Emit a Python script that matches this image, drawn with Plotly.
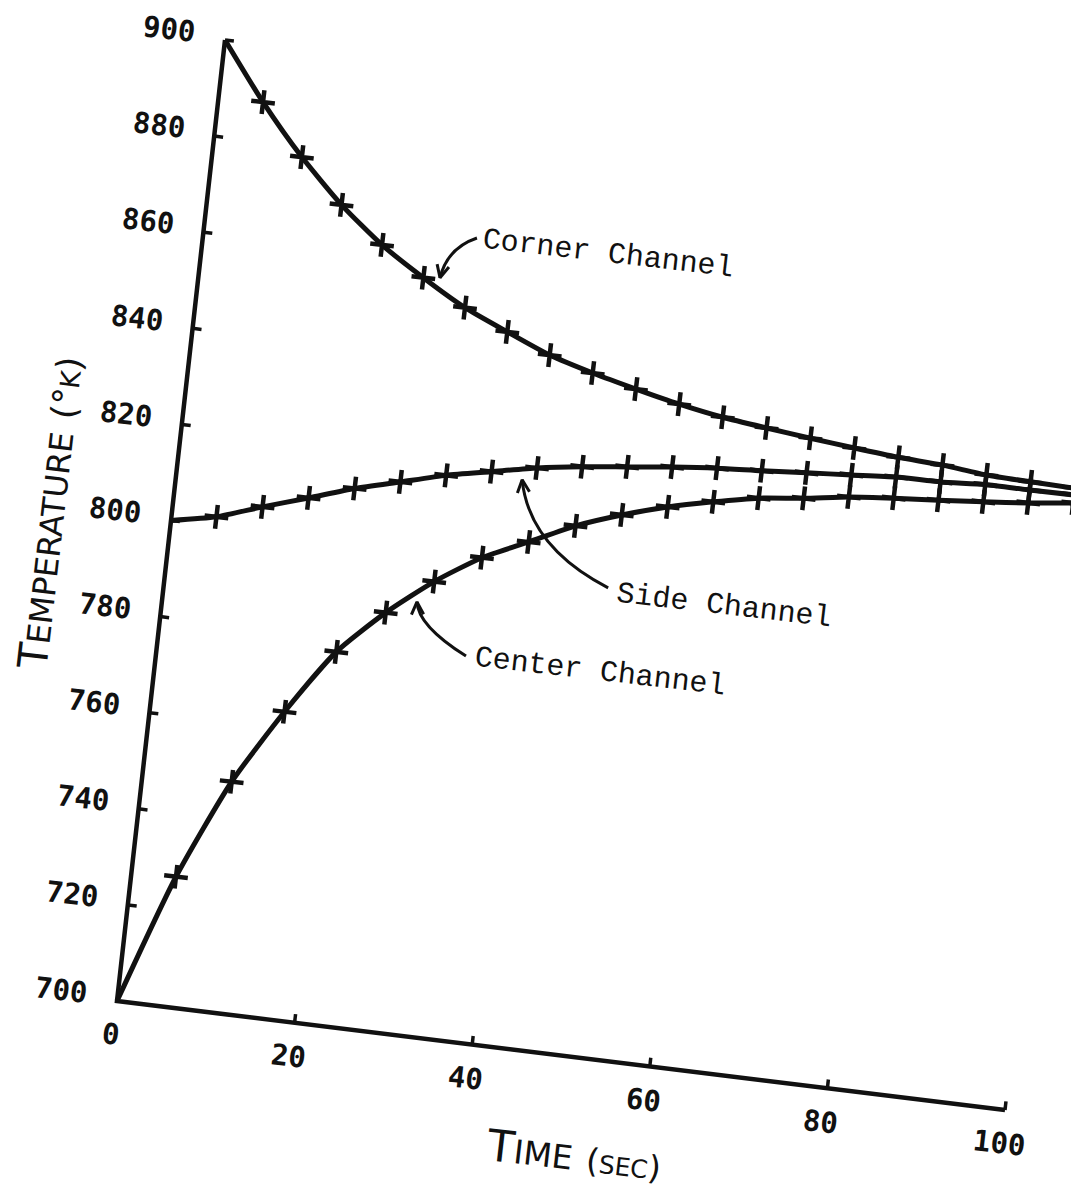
import math
import plotly.graph_objects as go

# ---------------- data ----------------
time_s = [0, 5, 10, 15, 20, 25, 30, 35, 40, 45, 50, 55, 60, 65, 70, 75, 80, 85, 90, 95, 100]
corner_K = [900, 888.2, 877.9, 869.1, 861.9, 856.2, 851.1, 847.2, 843.5, 840.9, 838.7,
            836.7, 835.1, 834.0, 833.0, 832.1, 831.3, 830.8, 829.9, 829.6, 829.4]
side_K = [800, 801.9, 805.1, 808.1, 811.2, 813.7, 816.2, 818.1, 820.0, 821.4, 822.5,
          823.6, 824.5, 825.1, 825.8, 826.5, 827.2, 827.3, 827.9, 827.9, 828.0]
center_K = [700, 727.0, 747.9, 763.6, 777.2, 786.5, 794.1, 800.2, 804.6, 809.1, 812.5,
            815.3, 817.5, 819.4, 820.5, 821.9, 822.8, 823.5, 824.3, 825.2, 826.3]
x_ticks = [0, 20, 40, 60, 80, 100]
y_ticks = [700, 720, 740, 760, 780, 800, 820, 840, 860, 880, 900]
series_names = ["Corner Channel", "Side Channel", "Center Channel"]

# ---------------- geometry of the (rotated) scanned page ----------------
W, H = 1079, 1187
PAGE_OFF = 8                # browser body margin
OX, OY = 117 - PAGE_OFF, 1001 - PAGE_OFF   # figure pixel of origin (t=0, T=700)
PX_T, PY_T = 8.88, 1.09     # pixels per second along the time axis
PX_K, PY_K = 0.54, 4.805    # pixels per kelvin along the temperature axis
T0 = 700
ANG = 6.6                   # page rotation (deg, clockwise)


def sx(t, T):
    return t + (PX_K / PX_T) * (T - T0)


def sy(t, T):
    return T - (PY_T / PY_K) * t


def to_pix(X, Y):
    return OX + PX_T * X, OY - PY_K * (Y - T0)


def from_pix(px, py):
    return (px - OX) / PX_T, T0 + (OY - py) / PY_K


INK = "#111111"
fig = go.Figure()

# axes lines
fig.add_trace(go.Scatter(x=[sx(0, 900), sx(0, 700), sx(100, 700)],
                         y=[sy(0, 900), sy(0, 700), sy(100, 700)],
                         mode="lines", line=dict(color=INK, width=4.5), hoverinfo="skip"))
# ticks
tx, ty = [], []
for T in y_ticks[1:]:
    tx += [sx(0, T), sx(1.0, T), None]
    ty += [sy(0, T), sy(1.0, T), None]
for t in x_ticks[1:]:
    tx += [sx(t, 700), sx(t, 701.8), None]
    ty += [sy(t, 700), sy(t, 701.8), None]
fig.add_trace(go.Scatter(x=tx, y=ty, mode="lines", line=dict(color=INK, width=3.5),
                         hoverinfo="skip"))

# curves + markers
for name, vals in zip(series_names, [corner_K, side_K, center_K]):
    xs = [sx(t, v) for t, v in zip(time_s, vals)]
    ys = [sy(t, v) for t, v in zip(time_s, vals)]
    fig.add_trace(go.Scatter(x=xs, y=ys, mode="lines", name=name,
                             line=dict(color=INK, width=5, shape="spline", smoothing=0.6)))
    fig.add_trace(go.Scatter(x=xs[1:], y=ys[1:], mode="markers", showlegend=False,
                             marker=dict(symbol="cross-thin", size=17, angle=ANG,
                                         line=dict(color=INK, width=4.5))))

# tick labels
TICKFONT = dict(family="DejaVu Sans Mono", size=29, color=INK)
for T in y_ticks:
    fig.add_annotation(x=sx(-6.3, T + 0.8), y=sy(-6.3, T + 0.8), text=f"<b>{T}</b>",
                       showarrow=False, textangle=ANG, font=TICKFONT)
for t in x_ticks:
    fig.add_annotation(x=sx(t - 0.3, 700 - 7.0), y=sy(t - 0.3, 700 - 7.0), text=f"<b>{t}</b>",
                       showarrow=False, textangle=ANG, font=TICKFONT)

# axis titles
TITLEFONT = dict(family="DejaVu Sans", size=44, color=INK)
fig.add_annotation(x=sx(52.7, 680), y=sy(52.7, 680),
                   text="T<span style='font-size:33px'>IME</span> "
                        "<span style='font-size:33px'>(</span><span style='font-size:25px'>SEC</span>"
                        "<span style='font-size:33px'>)</span>",
                   showarrow=False, textangle=ANG, font=TITLEFONT)
fig.add_annotation(x=sx(-13.5, 798.5), y=sy(-13.5, 798.5),
                   text="T<span style='font-size:32px'>EMPERATURE</span> "
                        "<span style='font-size:35px'>(°</span><span style='font-size:27px'>K</span>"
                        "<span style='font-size:35px'>)</span>",
                   showarrow=False, textangle=ANG - 90,
                   font=dict(family="DejaVu Sans", size=41, color=INK))

# curve labels
LABFONT = dict(family="Liberation Mono", size=30, color=INK)
label_pos = {"Corner Channel": (45.2, 865.7), "Side Channel": (62.5, 796.4),
             "Center Channel": (49.5, 779.7)}
for name, (t, T) in label_pos.items():
    fig.add_annotation(x=sx(t, T), y=sy(t, T), text=name, showarrow=False,
                       textangle=ANG, font=LABFONT)

# curved pointer arrows: (start, control, tip) in (t, T)
arrows = {"Corner Channel": [(30.46, 865.7), (27.3, 862.9), (26.85, 856.6)],
          "Side Channel": [(49.4, 797.2), (40.1, 803.6), (38.5, 817.2)],
          "Center Channel": [(34.46, 779.6), (28.75, 784.6), (28.34, 789.5)]}
for name, pts in arrows.items():
    (a0, b0), (a1, b1), (a2, b2) = pts
    p0 = (sx(a0, b0), sy(a0, b0))
    p1 = (sx(a1, b1), sy(a1, b1))
    p2 = (sx(a2, b2), sy(a2, b2))
    fig.add_shape(type="path",
                  path=f"M {p0[0]},{p0[1]} Q {p1[0]},{p1[1]} {p2[0]},{p2[1]}",
                  line=dict(color=INK, width=3))
    # arrow head (open V) computed in page pixels
    tipx, tipy = to_pix(*p2)
    cx, cy = to_pix(*p1)
    d = math.atan2(cy - tipy, cx - tipx)
    hx, hy = [], []
    for s in (-0.45, 0.45):
        wx, wy = tipx + 14 * math.cos(d + s), tipy + 14 * math.sin(d + s)
        X, Y = from_pix(wx, wy)
        hx.append(X)
        hy.append(Y)
    fig.add_trace(go.Scatter(x=[hx[0], p2[0], hx[1]], y=[hy[0], p2[1], hy[1]], mode="lines",
                             line=dict(color=INK, width=3), hoverinfo="skip"))

fig.update_layout(
    width=W, height=H, autosize=False,
    margin=dict(l=0, r=0, t=0, b=0),
    paper_bgcolor="white", plot_bgcolor="white", showlegend=False,
    xaxis=dict(visible=False, range=[-OX / PX_T, (W - OX) / PX_T], fixedrange=True),
    yaxis=dict(visible=False, range=[T0 - (H - OY) / PY_K, T0 + OY / PY_K], fixedrange=True),
)

fig.write_html("out.html")
